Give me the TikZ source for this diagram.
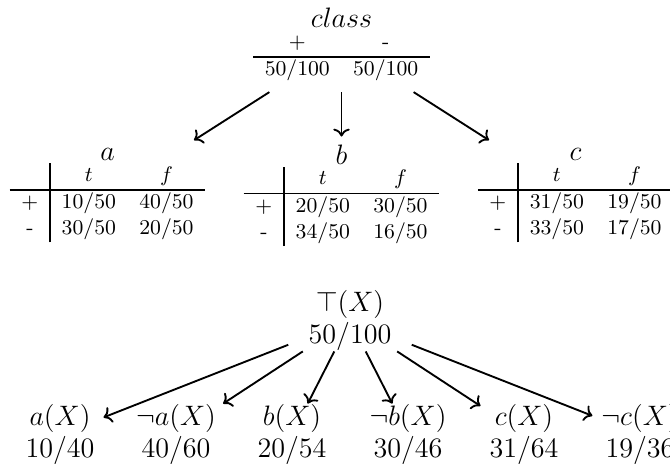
\documentclass[tikz,border=0pt]{standalone}
\usepackage{amsmath}
\usepackage{tikz}
\usetikzlibrary{arrows.meta,positioning}
\setlength{\arrayrulewidth}{0.8pt}

\begin{document}
\begin{tikzpicture}[>=To,
  tbl/.style={align=center,font=\small,inner sep=0.12cm},
  cnt/.style={align=center,font=\large,inner xsep=0.3cm,inner ysep=0pt},
  lf/.style={align=center,font=\large,inner xsep=0.13cm,inner ysep=0pt},
  arr/.style={->,line width=0.8pt}]
\useasboundingbox (0,0) rectangle (10.05,-7.065);
% class distribution and the three attribute tables
\node[tbl] (cls) at (5.1225,-0.69) {{\large$class$}\\$\begin{array}{cc}+&\mbox{-}\\\hline 50/100&50/100\end{array}$};
\node[tbl] (ta) at (1.6125,-2.9325) {{\large$a$}\\$\begin{array}{c|cc}&t&f\\\hline +&10/50&40/50\\\mbox{-}&30/50&20/50\end{array}$};
\node[tbl] (tb) at (5.1225,-2.9325) {{\large$b$}\\$\begin{array}{c|cc}&t&f\\\hline +&20/50&30/50\\\mbox{-}&34/50&16/50\end{array}$};
\node[tbl] (tc) at (8.6325,-2.9325) {{\large$c$}\\$\begin{array}{c|cc}&t&f\\\hline +&31/50&19/50\\\mbox{-}&33/50&17/50\end{array}$};
\draw[arr] (cls)--(ta);
\draw[arr] (cls)--(tb);
\draw[arr] (cls)--(tc);
% counts per literal
\node[cnt] (top) at (5.25,-4.8075) {$\top(X)$\\$50/100$};
\node[lf] (a1) at (0.9,-6.5175) {$a(X)$\\$10/40$};
\node[lf] (a0) at (2.64,-6.5175) {$\neg a(X)$\\$40/60$};
\node[lf] (b1) at (4.38,-6.5175) {$b(X)$\\$20/54$};
\node[lf] (b0) at (6.12,-6.5175) {$\neg b(X)$\\$30/46$};
\node[lf] (c1) at (7.86,-6.5175) {$c(X)$\\$31/64$};
\node[lf] (c0) at (9.6,-6.5175) {$\neg c(X)$\\$19/36$};
\draw[arr] (top)--(a1);
\draw[arr] (top)--(a0);
\draw[arr] (top)--(b1);
\draw[arr] (top)--(b0);
\draw[arr] (top)--(c1);
\draw[arr] (top)--(c0);
\end{tikzpicture}
\end{document}
